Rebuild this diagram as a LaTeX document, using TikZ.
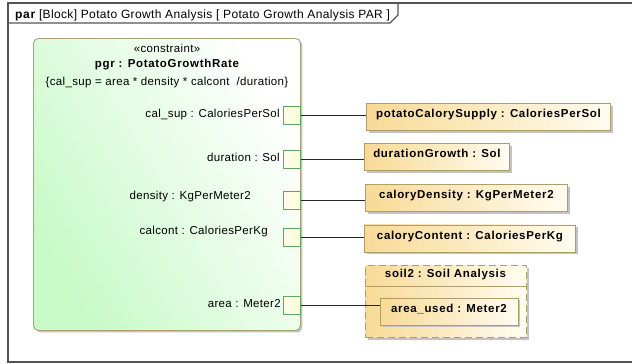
\documentclass[tikz,border=0pt]{standalone}
\usepackage{fontspec}
\setmainfont{Liberation Sans}[LetterSpace=3]
\usetikzlibrary{shadows}
\definecolor{framecol}{RGB}{85,85,85}
\definecolor{blockborder}{RGB}{170,160,120}
\definecolor{blockgreen}{RGB}{200,250,200}
\definecolor{portfill}{RGB}{255,253,225}
\definecolor{portborder}{RGB}{95,165,95}
\definecolor{parttan}{RGB}{248,218,150}
\definecolor{partlight}{RGB}{255,252,240}
\definecolor{partborder}{RGB}{175,158,105}
\definecolor{shadowcol}{RGB}{195,195,195}
\newcommand{\regfont}{\fontsize{11.5}{13}\selectfont}
\newcommand{\boldfont}{\fontsize{11.5}{13}\selectfont\bfseries\addfontfeatures{LetterSpace=6}}
\newcommand{\titlefont}{\fontsize{12}{14}\selectfont}
\begin{document}
\begin{tikzpicture}[x=1pt,y=-1pt,
  frameline/.style={draw=framecol,line width=1.1pt},
  cblock/.style={draw=blockborder,line width=0.9pt,rounded corners=5pt,
    left color=blockgreen,right color=white,shading angle=120,
    general shadow={shadow xshift=2pt,shadow yshift=-2pt,fill=shadowcol,rounded corners=5pt},
    anchor=north west,inner sep=0pt},
  port/.style={draw=portborder,fill=portfill,line width=0.8pt,minimum width=17pt,minimum height=18pt,inner sep=0pt,anchor=north west},
  plabel/.style={font=\regfont,anchor=east,inner sep=0pt},
  part/.style={draw=partborder,line width=0.9pt,left color=parttan,right color=partlight,
    general shadow={shadow xshift=2.5pt,shadow yshift=-2.5pt,fill=shadowcol},
    font=\boldfont,anchor=north west,
    inner xsep=0pt,inner ysep=3pt,text height=11.1pt,text depth=9.9pt,minimum height=27pt},
  conn/.style={draw=black!85,line width=0.8pt},
  ctext/.style={font=\regfont,inner sep=0pt}
]
\useasboundingbox (0,0) rectangle (632,364);
% frame
\draw[frameline] (634,3) -- (8,3) -- (8,362) -- (634,362);
\draw[frameline] (8,23) -- (390,23) -- (398,15) -- (398,3);
\node[anchor=base west,inner sep=0pt,font=\titlefont] (title) at (15,18)
  {{\bfseries\addfontfeatures{LetterSpace=6}par} [Block] Potato Growth Analysis [ Potato Growth Analysis PAR ]};
% constraint block
\node[cblock,minimum width=267pt,minimum height=292pt] (pgr) at (33,38) {};
\node[ctext] (ster) at (167,48) {«constraint»};
\node[ctext,font=\boldfont] (pname) at (167,65) {pgr : PotatoGrowthRate};
\node[ctext] (eq) at (167,83) {\{cal\_sup = area * density * calcont \ /duration\}};
% ports
\node[port] (p1) at (283,105.5) {};
\node[port] (p2) at (283,149.5) {};
\node[port] (p3) at (283,191) {};
\node[port] (p4) at (283,228) {};
\node[port] (p5) at (283,295.5) {};
\node[plabel] (l1) at (280,114.5) {cal\_sup : CaloriesPerSol};
\node[plabel] (l2) at (280,157.5) {duration : Sol};
\node[plabel] (l3) at (251,197) {density : KgPerMeter2};
\node[plabel] (l4) at (268,232) {calcont : CaloriesPerKg};
\node[plabel] (l5) at (281,304) {area : Meter2};
% parts
\node[part,minimum width=244pt] (pcs) at (366,103) {potatoCalorySupply : CaloriesPerSol};
\node[part,minimum width=145pt] (dg) at (364,143) {durationGrowth : Sol};
\node[part,minimum width=202pt] (cd) at (365,184) {caloryDensity : KgPerMeter2};
\node[part,minimum width=211pt] (cc) at (364,224.5) {caloryContent : CaloriesPerKg};
% soil2
\node[draw=partborder,dashed,dash pattern=on 7pt off 4pt,line width=1pt,left color=parttan,right color=partlight,
  general shadow={shadow xshift=2.5pt,shadow yshift=-2.5pt,fill=shadowcol},
  anchor=north west,minimum width=161pt,minimum height=72pt,inner sep=0pt] (soil) at (365,265) {};
\draw[draw=partborder,line width=0.8pt] (soil.west |- 0,286) -- (soil.east |- 0,286);
\node[ctext,font=\boldfont] (soilname) at (445.5,275) {soil2 : Soil Analysis};
\node[part,minimum width=138pt] (au) at (379.5,297.5) {area\_used : Meter2};
% connectors
\draw[conn] (p1.east) -- (p1.east -| pcs.west);
\draw[conn] (p2.east) -- (p2.east -| dg.west);
\draw[conn] (p3.east) -- (p3.east -| cd.west);
\draw[conn] (p4.east) -- (p4.east -| cc.west);
\draw[conn] (p5.east) -- (p5.east -| au.west);
\end{tikzpicture}
\end{document}
